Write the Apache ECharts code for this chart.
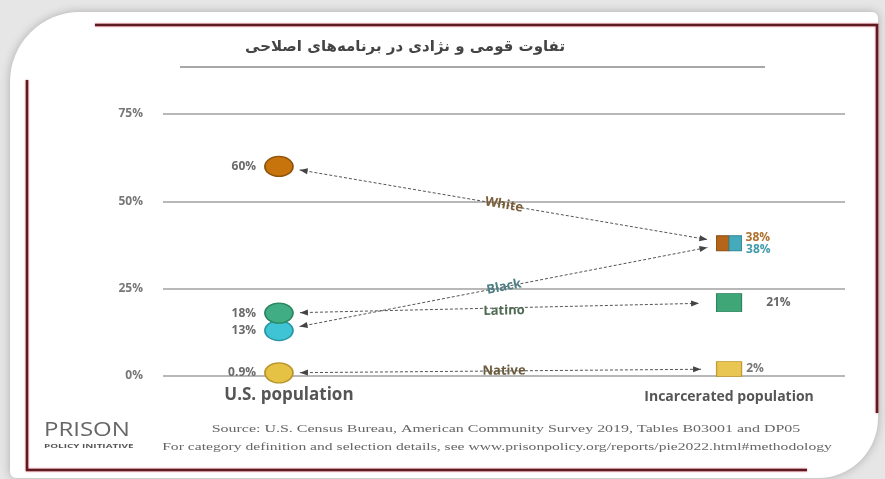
<!DOCTYPE html>
<html>
<head>
<meta charset="utf-8">
<script src="https://cdn.jsdelivr.net/npm/echarts@6/dist/echarts.min.js"></script>
<style>
html,body{margin:0;padding:0;background:#e6e6e6;}
#c{width:885px;height:479px;}
</style>
</head>
<body>
<div id="c"></div>
<script>
// ---- data ----
const groups = ['White', 'Black', 'Latino', 'Native'];
const usPop = [60, 13, 18, 0.9];
const incPop = [38, 38, 21, 2];
const usLabels = ['60%', '13%', '18%', '0.9%'];
const incLabels = ['38%', '38%', '21%', '2%'];
const yTicks = [0, 25, 50, 75];
const columns = ['U.S. population', 'Incarcerated population'];
const titleText = 'تفاوت قومی و نژادی در برنامه‌های اصلاحی';
const sourceLine1 = 'Source: U.S. Census Bureau, American Community Survey 2019, Tables B03001 and DP05';
const sourceLine2 = 'For category definition and selection details, see www.prisonpolicy.org/reports/pie2022.html#methodology';

// ---- styling ----
const X_US = 17, X_INC = 83;
const circleColors = ['#c8740c', '#3ec4d4', '#41ad84', '#e6c244'];
const circleBorders = ['#8e520a', '#2a96a4', '#2b8660', '#b8952c'];
const squareColors = ['#b5651a', '#45aabb', '#3fa678', '#e9c552'];
const squareBorders = ['#8a4a10', '#2f8796', '#2e8460', '#c09a36'];
const lineLabelColors = ['#7a5e38', '#4f7f86', '#4e6a52', '#6b5a3c'];
const incLabelColors = ['#b0702c', '#3f9aaa', '#666', '#777'];

const chart = echarts.init(document.getElementById('c'));

const circleData = groups.map((g, i) => ({
  value: [X_US, usPop[i]],
  itemStyle: { color: circleColors[i], borderColor: circleBorders[i], borderWidth: 1.5, opacity: 1 },
  label: { formatter: usLabels[i] }
}));

// squares: White & Black share one square split into halves
const squareData = groups.map((g, i) => {
  let size = [25, 16], offset = [0, 0], lbl = { formatter: incLabels[i], color: incLabelColors[i] };
  if (i === 0) { size = [12.5, 15]; offset = [-6.25, 0]; lbl.offset = [0, -6]; lbl.distance = 16; }
  if (i === 1) { size = [12.5, 15]; offset = [6.25, 0]; lbl.offset = [0, 6]; lbl.distance = 4; }
  if (i === 2) { size = [25, 18]; lbl.distance = 24; }
  if (i === 3) { size = [25, 15]; lbl.distance = 4; }
  return {
    value: [X_INC, incPop[i]],
    symbolSize: size,
    symbolOffset: offset,
    itemStyle: { color: squareColors[i], borderColor: squareBorders[i], borderWidth: 1, opacity: 1 },
    label: lbl
  };
});

const arrowData = groups.map((g, i) => [X_US, usPop[i], X_INC, incPop[i], i]);
const gapRight = [22, 22, 30, 28];

function arrowHead(tip, ux, uy) {
  const L = 8, W = 3;
  const bx = tip[0] - ux * L, by = tip[1] - uy * L;
  return [[tip[0], tip[1]], [bx - uy * W, by + ux * W], [bx + uy * W, by - ux * W]];
}

const option = {
  animation: false,
  backgroundColor: 'transparent',
  grid: { left: 163, right: 40, top: 114, bottom: 103 },
  xAxis: {
    type: 'value', min: 0, max: 100,
    axisLine: { show: false }, axisTick: { show: false }, splitLine: { show: false },
    axisLabel: {
      customValues: [X_US, X_INC],
      margin: 11,
      formatter: v => (Math.abs(v - X_US) < 0.01 ? '{a|' + columns[0] + '}' : '{b|' + columns[1] + '}'),
      rich: {
        a: { fontFamily: 'Open Sans', fontWeight: 'bold', fontSize: 17, color: '#555', padding: [0, 0, 0, 20] },
        b: { fontFamily: 'Open Sans', fontWeight: 'bold', fontSize: 14, color: '#555', padding: [3, 0, 0, 0] }
      }
    }
  },
  yAxis: {
    type: 'value', min: 0, max: 75, interval: 25,
    axisLine: { show: false }, axisTick: { show: false },
    splitLine: { lineStyle: { color: '#a0a0a0', width: 1.5 } },
    axisLabel: {
      margin: 20, color: '#777', fontFamily: 'Open Sans', fontWeight: 'bold', fontSize: 12,
      formatter: v => (yTicks.indexOf(v) >= 0 ? v + '%' : '')
    }
  },
  series: [
    {
      type: 'custom',
      coordinateSystem: 'cartesian2d',
      encode: { x: [0, 2], y: [1, 3] },
      data: arrowData,
      z: 3,
      renderItem: function (params, api) {
        const i = api.value(4);
        const p1 = api.coord([api.value(0), api.value(1)]);
        const p2 = api.coord([api.value(2), api.value(3)]);
        const dx = p2[0] - p1[0], dy = p2[1] - p1[1];
        const len = Math.sqrt(dx * dx + dy * dy);
        const ux = dx / len, uy = dy / len;
        const a = [p1[0] + ux * 21, p1[1] + uy * 21];
        const b = [p2[0] - ux * gapRight[i], p2[1] - uy * gapRight[i]];
        const mid = [(p1[0] + p2[0]) / 2, (p1[1] + p2[1]) / 2];
        return {
          type: 'group',
          children: [
            { type: 'line', shape: { x1: a[0], y1: a[1], x2: b[0], y2: b[1] },
              style: { stroke: '#555', lineWidth: 1, lineDash: [3, 2] } },
            { type: 'polygon', shape: { points: arrowHead(a, -ux, -uy) }, style: { fill: '#444' } },
            { type: 'polygon', shape: { points: arrowHead(b, ux, uy) }, style: { fill: '#444' } },
            { type: 'text', x: mid[0], y: mid[1] + (i === 2 ? 3 : 0), rotation: -Math.atan2(dy, dx),
              style: { text: groups[i], fill: lineLabelColors[i], font: 'bold 13px "Open Sans"',
                       align: 'center', verticalAlign: 'middle' } }
          ]
        };
      }
    },
    {
      type: 'scatter',
      symbol: 'circle',
      symbolSize: [28, 20],
      z: 4,
      data: circleData,
      label: { show: true, position: 'left', distance: 8, color: '#6a6a6a',
               fontFamily: 'Open Sans', fontWeight: 'bold', fontSize: 12 }
    },
    {
      type: 'scatter',
      symbol: 'rect',
      z: 4,
      data: squareData,
      label: { show: true, position: 'right', fontFamily: 'Open Sans', fontWeight: 'bold', fontSize: 12 }
    }
  ],
  graphic: [
    { type: 'rect', z: -10, shape: { x: 10, y: 12, width: 868, height: 466, r: [70, 6, 60, 6] },
      style: { fill: '#ffffff', shadowBlur: 10, shadowColor: 'rgba(0,0,0,0.25)' } },
    { type: 'polyline', z: -5, shape: { points: [[95, 25], [877, 25], [877, 413]] },
      style: { stroke: '#5e1a20', lineWidth: 2.5, fill: null, shadowBlur: 2, shadowColor: '#e06070' } },
    { type: 'polyline', z: -5, shape: { points: [[27, 80], [27, 470], [807, 470]] },
      style: { stroke: '#5e1a20', lineWidth: 2.5, fill: null, shadowBlur: 2, shadowColor: '#e06070' } },
    { type: 'text', x: 405, y: 47,
      style: { text: titleText, font: 'bold 15px "DejaVu Sans"', fill: '#444', align: 'center', verticalAlign: 'middle' } },
    { type: 'line', shape: { x1: 180, y1: 67, x2: 765, y2: 67 }, style: { stroke: '#8a8a8a', lineWidth: 1.5 } },
    { type: 'text', x: 44, y: 430, scaleX: 1.2,
      style: { text: 'PRISON', font: '20px "Open Sans"', fill: '#666', align: 'left', verticalAlign: 'middle' } },
    { type: 'text', x: 44, y: 446, scaleX: 1.8,
      style: { text: 'POLICY INITIATIVE', font: 'bold 5.5px "Open Sans"', fill: '#555', align: 'left', verticalAlign: 'middle' } },
    { type: 'text', x: 506, y: 429, scaleX: 1.45,
      style: { text: sourceLine1, font: '11px "Liberation Serif"', fill: '#666', align: 'center', verticalAlign: 'middle' } },
    { type: 'text', x: 497, y: 447, scaleX: 1.42,
      style: { text: sourceLine2, font: '11px "Liberation Serif"', fill: '#666', align: 'center', verticalAlign: 'middle' } }
  ]
};

chart.setOption(option);
</script>
</body>
</html>
